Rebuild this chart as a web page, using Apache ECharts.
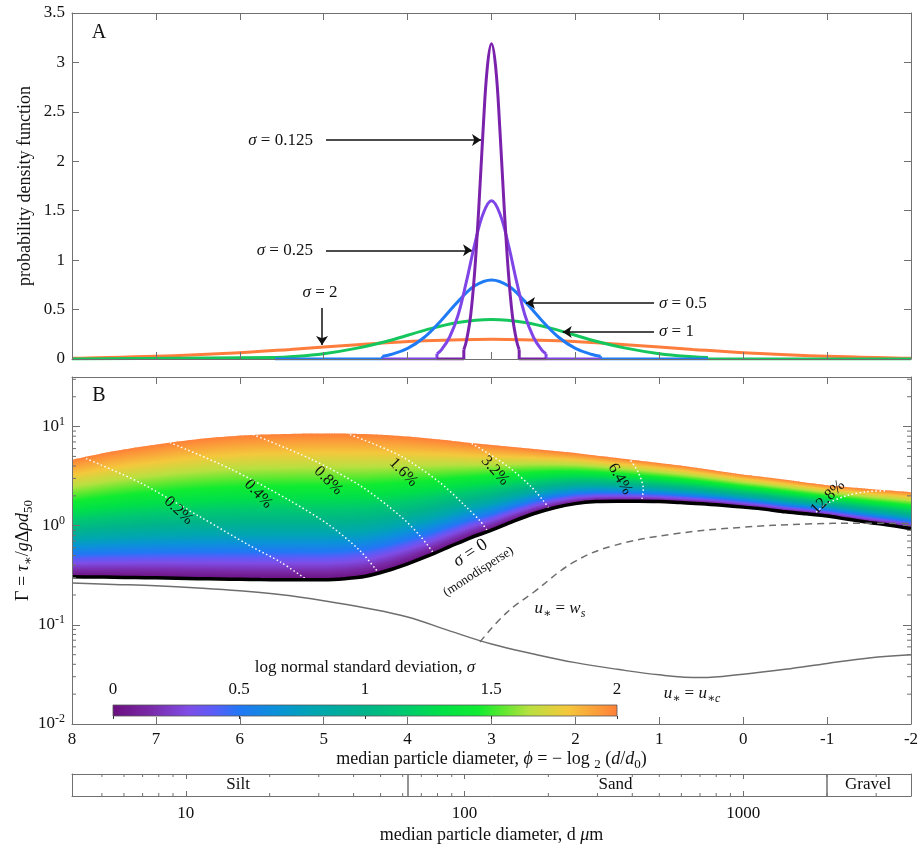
<!DOCTYPE html>
<html><head><meta charset="utf-8">
<script src="https://cdn.jsdelivr.net/npm/echarts@6/dist/echarts.min.js"></script>
<style>html,body{margin:0;padding:0;background:#fff}#chart{width:920px;height:844px}</style>
</head><body><div id="chart"></div>
<script>
// ================= DATA =================
// Panel A: probability density curves (bell part), [phi, pdf]
const pdfSigma2 = [[-2,0.0088],[-1.8,0.011],[-1.0,0.027],[-0.2,0.055],[0.6,0.097],[1.4,0.145],[2.2,0.184],[3.0,0.20],[3.8,0.184],[4.6,0.145],[5.4,0.097],[6.2,0.055],[7.0,0.027],[7.8,0.011],[8.0,0.0088]];
const pdfSigma1 = [[0.42,0.014],[0.6,0.022],[1.0,0.054],[1.4,0.11],[1.8,0.19],[2.2,0.29],[2.6,0.37],[3.0,0.40],[3.4,0.37],[3.8,0.29],[4.2,0.19],[4.6,0.11],[5.0,0.054],[5.4,0.022],[5.58,0.014]];
const pdfSigma05 = [[1.70,0.027],[1.8,0.045],[2.0,0.108],[2.2,0.22],[2.4,0.39],[2.6,0.58],[2.8,0.74],[3.0,0.80],[3.2,0.74],[3.4,0.58],[3.6,0.39],[3.8,0.22],[4.0,0.108],[4.2,0.045],[4.30,0.027]];
const pdfSigma025 = [[2.35,0.054],[2.4,0.09],[2.5,0.22],[2.6,0.44],[2.7,0.78],[2.8,1.16],[2.9,1.47],[3.0,1.60],[3.1,1.47],[3.2,1.16],[3.3,0.78],[3.4,0.44],[3.5,0.22],[3.6,0.09],[3.65,0.054]];
const pdfSigma0125 = [[2.67,0.094],[2.7,0.18],[2.75,0.43],[2.8,0.89],[2.85,1.55],[2.9,2.32],[2.95,2.95],[3.0,3.19],[3.05,2.95],[3.1,2.32],[3.15,1.55],[3.2,0.89],[3.25,0.43],[3.3,0.18],[3.33,0.094]];
// zero tails outside the truncated bells ('-' breaks the line)
const tailSigma1 = [[-2,0],[0.42,0],[0.42,0.014],[0.42,'-'],[5.58,0.014],[5.58,0],[8,0]];
const tailSigma05 = [[0.42,0],[1.70,0],[1.70,0.027],[1.70,'-'],[4.30,0.027],[4.30,0],[5.58,0]];
const tailSigma025 = [[1.70,0],[2.35,0],[2.35,0.054],[2.35,'-'],[3.65,0.054],[3.65,0],[4.30,0]];
const tailSigma0125 = [[2.35,0],[2.67,0],[2.67,0.094],[2.67,'-'],[3.33,0.094],[3.33,0],[3.65,0]];
const sigmaTagText = ['0.125','0.25','2','0.5','1'];
const sigmaTagAt = [[5.128,2.215],[5.128,1.10],[5.044,0.668],[1.004,0.566],[1.004,0.273]];
const arrowFrom = [[4.973,2.215],[4.973,1.10],[5.02,0.516],[1.063,0.566],[1.063,0.273]];
const arrowTo = [[3.125,2.215],[3.232,1.10],[5.02,0.142],[2.589,0.566],[2.151,0.273]];

// Panel B: Gamma boundaries of the coloured region
const phiGrid = [8,7.75,7.5,7.25,7,6.75,6.5,6.25,6,5.75,5.5,5.25,5,4.75,4.5,4.25,4,3.75,3.5,3.25,3,2.75,2.5,2.25,2,1.75,1.5,1.25,1,0.75,0.5,0.25,0,-0.25,-0.5,-0.75,-1,-1.25,-1.5,-1.75,-2];
const gammaSigma0 = [0.305,0.304,0.302,0.300,0.298,0.295,0.292,0.290,0.288,0.286,0.285,0.285,0.285,0.292,0.309,0.351,0.413,0.498,0.614,0.756,0.901,1.10,1.32,1.52,1.67,1.75,1.77,1.77,1.75,1.71,1.67,1.61,1.54,1.47,1.38,1.32,1.25,1.16,1.08,1.01,0.93];
const gammaSigma2 = [4.64,5.15,5.66,6.14,6.58,7.05,7.48,7.83,8.11,8.30,8.40,8.50,8.50,8.50,8.40,8.21,7.92,7.57,7.22,6.81,6.50,6.21,5.93,5.66,5.40,5.09,4.81,4.54,4.28,4.04,3.77,3.51,3.27,3.09,2.91,2.72,2.56,2.45,2.34,2.26,2.18];
// relative (log) height within the region at which each sigma level sits
const sigmaLevels = [0,0.5,1,1.5,2];
const sigmaLevelFrac = [0,0.19,0.40,0.67,1];
// colour map (sigma -> colour)
const cmapSigma = [0,0.15,0.3,0.4,0.5,0.65,0.8,1.0,1.15,1.3,1.45,1.55,1.65,1.8,2.0];
const cmapColor = ['#6b0f7e','#7a2aa8','#7f4de6','#5b5cf8','#2277f5','#0a92d8','#00a6b0','#00b48a','#00c870','#00e048','#10ec30','#60e830','#b8e040','#f4c83c','#ff8038'];
// white dotted concentration contours, [phi, Gamma]
const contour02 = [[7.833,4.75],[7.19,2.72],[6.474,1.23],[5.878,0.628],[5.521,0.433],[5.199,0.285]];
const contour04 = [[6.832,6.89],[6.117,3.76],[5.402,1.79],[4.925,1.0],[4.567,0.559],[4.353,0.34]];
const contour08 = [[5.843,8.30],[5.163,4.75],[4.567,2.54],[4.091,1.26],[3.852,0.792],[3.685,0.521]];
const contour16 = [[4.687,8.30],[4.091,5.09],[3.614,2.72],[3.316,1.59],[3.137,1.12],[3.042,0.87]];
const contour32 = [[3.236,6.78],[2.819,4.04],[2.541,2.54],[2.383,1.79],[2.303,1.45]];
const contour64 = [[1.341,4.54],[1.250,3.45],[1.191,2.35],[1.210,1.79]];
const contour128 = [[-0.836,1.29],[-0.995,1.66],[-1.234,2.01],[-1.472,2.20],[-1.71,2.26]];
const contourLabelText = ['0.2%','0.4%','0.8%','1.6%','3.2%','6.4%','12.8%'];
const contourLabelAt = [[6.731,1.42],[5.78,2.09],[4.945,2.85],[4.05,3.45],[2.958,3.59],[1.47,2.96],[-1.01,1.93]];
const contourLabelAngle = [-43,-47,-45,-45,-48,-60,45];
// u* = u*c (solid grey) and u* = ws (dashed grey)
const ucPhi = [8,7.5,7,6.5,6,5.5,5,4.5,4,3.5,3,2.5,2,1.5,1,0.5,0,-0.5,-1,-1.5,-2];
const ucGamma = [0.264,0.256,0.248,0.236,0.221,0.201,0.175,0.148,0.120,0.087,0.064,0.0509,0.0416,0.0356,0.0313,0.0294,0.0318,0.0356,0.0408,0.0464,0.050];
const wsPhi = [3.137,2.819,2.502,2.025,1.548,0.833,0.038,-0.757,-1.39,-2];
const wsGamma = [0.0673,0.133,0.212,0.426,0.628,0.824,0.961,1.04,1.06,1.05];
// minor ticks
const gammaMinorTicks = [0.02,0.03,0.04,0.05,0.06,0.07,0.08,0.09,0.2,0.3,0.4,0.5,0.6,0.7,0.8,0.9,2,3,4,5,6,7,8,9,20,30];
const dMinorTicks = [5,6,7,8,9,20,30,40,50,60,70,80,90,200,300,400,500,600,700,800,900,2000,3000];
// grain size classes (d in micrometres)
const classNames = ['Silt','Sand','Gravel'];
const classCenterD = [15.4,348,2809];
const classBoundD = [62.5,2000];

// ================= STYLE =================
const FONT = '"Liberation Serif","DejaVu Serif",serif';
const GRAY = '#707070';
const TXT = '#111111';
function rich(sz){
  const s = Math.round(sz*0.7);
  return {
    n:{fontFamily:FONT,fontSize:sz,color:TXT,lineHeight:sz+5,opacity:1},
    i:{fontFamily:FONT,fontSize:sz,fontStyle:'italic',color:TXT,lineHeight:sz+5,opacity:1},
    sub:{fontFamily:FONT,fontSize:s,color:TXT,lineHeight:s,verticalAlign:'bottom'},
    subi:{fontFamily:FONT,fontSize:s,fontStyle:'italic',color:TXT,lineHeight:s,verticalAlign:'bottom'},
    sup:{fontFamily:FONT,fontSize:s,color:TXT,lineHeight:s,verticalAlign:'top'},
    b:{fontFamily:FONT,fontSize:sz,color:TXT,lineHeight:sz+5}
  };
}
const labelStyle = {show:true,color:TXT,fontFamily:FONT,fontSize:17,margin:7};
function axisBase(extra){
  return Object.assign({
    z:10,
    nameMoveOverlap:false,
    axisLine:{show:true,onZero:false,lineStyle:{color:GRAY,width:1}},
    axisTick:{show:true,inside:true,length:7,lineStyle:{color:GRAY,width:1}},
    axisLabel:{show:false},
    splitLine:{show:false},
    splitArea:{show:false}
  }, extra);
}
function powLabel(v){
  const l = Math.log10(v); const e = Math.round(l);
  if (Math.abs(l-e) > 1e-6) return '';
  return '{b|10}{sup|' + e + '}';
}
function decadeLabel(v){
  const l = Math.log10(v); const e = Math.round(l);
  if (Math.abs(l-e) > 1e-6) return '';
  return String(Math.round(Math.pow(10,e)));
}
function interpFrac(s){
  for (let k=0;k<sigmaLevels.length-1;k++){
    if (s <= sigmaLevels[k+1]){
      const t=(s-sigmaLevels[k])/(sigmaLevels[k+1]-sigmaLevels[k]);
      return sigmaLevelFrac[k]+t*(sigmaLevelFrac[k+1]-sigmaLevelFrac[k]);
    }
  }
  return 1;
}
const fillStops = cmapSigma.map((s,i)=>({offset:Math.min(1,Math.max(0,interpFrac(s))),color:cmapColor[i]}));
const barStops = cmapSigma.map((s,i)=>({offset:s/2,color:cmapColor[i]}));
function textLabel(txt, sz, extra){
  return Object.assign({show:true,position:'inside',formatter:'{n|'+txt+'}',rich:rich(sz),opacity:1,textBorderWidth:0,color:TXT}, extra||{});
}

const grids = [
  {left:72,top:13,width:839,height:346,outerBoundsMode:'none'},
  {left:72,top:377,width:839,height:347,outerBoundsMode:'none'},
  {left:72,top:774,width:839,height:22,outerBoundsMode:'none'},
  {left:113,top:705,width:504,height:11,outerBoundsMode:'none'}
];
const phiCommon = {type:'value',min:-2,max:8,interval:1,inverse:true};
const xAxes = [
  axisBase(Object.assign({gridIndex:0,position:'bottom'},phiCommon)),
  axisBase(Object.assign({gridIndex:0,position:'top'},phiCommon)),
  axisBase(Object.assign({gridIndex:1,position:'bottom',axisLabel:labelStyle,
    name:'{n|median particle diameter, }{i|ϕ}{n| = − log }{sub|2}{n| (}{i|d}{n|/}{i|d}{sub|0}{n|)}',
    nameLocation:'middle',nameGap:24,nameTextStyle:{rich:rich(18)}},phiCommon)),
  axisBase(Object.assign({gridIndex:1,position:'top'},phiCommon)),
  axisBase({gridIndex:2,type:'log',logBase:10,min:3.90625,max:4000,position:'bottom',
    axisTick:{show:true,inside:true,length:5,lineStyle:{color:GRAY,width:1}},
    axisLabel:Object.assign({},labelStyle,{formatter:decadeLabel,margin:9}),
    name:'{n|median particle diameter, d }{i|μ}{n|m}',nameLocation:'middle',nameGap:28,nameTextStyle:{rich:rich(18)}}),
  axisBase({gridIndex:2,type:'log',logBase:10,min:3.90625,max:4000,position:'top',
    axisTick:{show:true,inside:true,length:5,lineStyle:{color:GRAY,width:1}}}),
  {gridIndex:3,type:'value',min:0,max:2,interval:0.5,position:'top',z:10,nameMoveOverlap:false,
    axisLine:{show:false},axisTick:{show:true,inside:true,length:3,lineStyle:{color:'#333',width:1}},
    axisLabel:labelStyle,splitLine:{show:false},
    name:'{n|log normal standard deviation, }{i|σ}',nameLocation:'middle',nameGap:26,nameTextStyle:{rich:rich(17)}}
];
const gammaCommon = {type:'log',logBase:10,min:0.01,max:31.6228};
const yAxes = [
  axisBase({gridIndex:0,type:'value',min:0,max:3.5,interval:0.5,position:'left',axisLabel:labelStyle,
    name:'probability density function',nameLocation:'middle',nameRotate:90,nameGap:38,
    nameTextStyle:{fontFamily:FONT,fontSize:18,color:TXT}}),
  axisBase({gridIndex:0,type:'value',min:0,max:3.5,interval:0.5,position:'right'}),
  axisBase(Object.assign({gridIndex:1,position:'left',
    axisTick:{show:true,inside:true,length:8,lineStyle:{color:GRAY,width:1}},
    axisLabel:Object.assign({},labelStyle,{formatter:powLabel,rich:rich(17)}),
    name:'{n|Γ = }{i|τ}{sub|∗}{n|/}{i|g}{n|Δ}{i|ρd}{sub|50}',nameLocation:'middle',nameRotate:90,nameGap:37,
    nameTextStyle:{rich:rich(18)}},gammaCommon)),
  axisBase(Object.assign({gridIndex:1,position:'right',
    axisTick:{show:true,inside:true,length:8,lineStyle:{color:GRAY,width:1}}},gammaCommon)),
  axisBase({gridIndex:2,type:'value',min:0,max:1,position:'left',axisTick:{show:false}}),
  axisBase({gridIndex:2,type:'value',min:0,max:1,position:'right',axisTick:{show:false}}),
  {gridIndex:3,type:'value',min:0,max:1,show:false}
];

const series = [];
// ---- Panel A curves (widest first, narrowest on top)
const pdfBells = [pdfSigma2,pdfSigma1,pdfSigma05,pdfSigma025,pdfSigma0125];
const pdfTails = [null,tailSigma1,tailSigma05,tailSigma025,tailSigma0125];
const pdfColors = ['#ff7d3c','#14c65c','#1f7bf5','#7f45e6','#7b22ad'];
pdfBells.forEach((d,k)=>{
  if (pdfTails[k]) series.push({type:'line',xAxisIndex:0,yAxisIndex:0,data:pdfTails[k],showSymbol:false,symbol:'none',
    connectNulls:false,lineStyle:{color:pdfColors[k],width:3},silent:true,z:2+k});
  series.push({type:'line',xAxisIndex:0,yAxisIndex:0,data:d,showSymbol:false,symbol:'none',
    smooth:0.4,lineStyle:{color:pdfColors[k],width:3},silent:true,z:2+k});
});
// ---- Panel A annotations
series.push({type:'scatter',xAxisIndex:0,yAxisIndex:0,symbolSize:0,silent:true,z:12,itemStyle:{opacity:1},
  data:sigmaTagAt.map((p,i)=>({value:p,label:{show:true,position:(i<2?'left':(i===2?'inside':'right')),distance:0,
    formatter:'{i|σ}{n| = '+sigmaTagText[i]+'}',rich:rich(17),opacity:1}})),
  markLine:{silent:true,animation:false,symbol:['none','arrow'],symbolSize:9,label:{show:false},
    lineStyle:{color:'#111',width:1.5,type:'solid',opacity:1},emphasis:{disabled:true},
    data:arrowFrom.map((p,i)=>[{coord:p},{coord:arrowTo[i]}])}
});
series.push({type:'scatter',xAxisIndex:0,yAxisIndex:0,symbolSize:0,silent:true,z:12,itemStyle:{opacity:1},
  data:[{value:[7.678,3.30],label:textLabel('A',20)}]});

// ---- Panel B coloured region (each data segment drawn as thin overlapping columns)
const fillSegments = phiGrid.slice(0,-1).map((p,i)=>[p,phiGrid[i+1],gammaSigma0[i],gammaSigma0[i+1],gammaSigma2[i],gammaSigma2[i+1]]);
const SUB = 8;
series.push({type:'custom',xAxisIndex:2,yAxisIndex:2,silent:true,z:1,data:fillSegments,encode:{x:[0,1],y:[2,3,4,5]},
  renderItem(params,api){
    const p0=api.coord([api.value(0),api.value(2)]);
    const p1=api.coord([api.value(1),api.value(3)]);
    const q1=api.coord([api.value(1),api.value(5)]);
    const q0=api.coord([api.value(0),api.value(4)]);
    const lerp=(a,b,t)=>[a[0]+(b[0]-a[0])*t,a[1]+(b[1]-a[1])*t];
    const last = params.dataIndex === fillSegments.length-1;
    const children=[];
    for (let j=0;j<SUB;j++){
      const t0=j/SUB, t1=(j+1)/SUB, tm=(j+0.5)/SUB;
      const b0=lerp(p0,p1,t0), b1=lerp(p0,p1,t1), u1=lerp(q0,q1,t1), u0=lerp(q0,q1,t0);
      if (!(last && j===SUB-1)) { b1[0]+=0.9; u1[0]+=0.9; }
      const bm=lerp(p0,p1,tm), um=lerp(q0,q1,tm);
      const g=new echarts.graphic.LinearGradient(bm[0],bm[1],um[0],um[1],fillStops,true);
      children.push({type:'polygon',shape:{points:[b0,b1,u1,u0]},style:{fill:g}});
    }
    return {type:'group',children};
  }});
// contours
[contour02,contour04,contour08,contour16,contour32,contour64,contour128].forEach(d=>series.push({
  type:'line',xAxisIndex:2,yAxisIndex:2,data:d,showSymbol:false,symbol:'none',smooth:0.3,silent:true,z:3,
  lineStyle:{color:'#ffffff',width:1.5,type:[1.5,2.5]}}));
// sigma = 0 line
series.push({type:'line',xAxisIndex:2,yAxisIndex:2,data:phiGrid.map((p,i)=>[p,gammaSigma0[i]]),showSymbol:false,symbol:'none',
  smooth:0.3,silent:true,z:4,lineStyle:{color:'#000',width:3.5}});
// u*=u*c
series.push({type:'line',xAxisIndex:2,yAxisIndex:2,data:ucPhi.map((p,i)=>[p,ucGamma[i]]),showSymbol:false,symbol:'none',
  smooth:0.4,silent:true,z:4,lineStyle:{color:'#6e6e6e',width:1.5}});
// u*=ws
series.push({type:'line',xAxisIndex:2,yAxisIndex:2,data:wsPhi.map((p,i)=>[p,wsGamma[i]]),showSymbol:false,symbol:'none',
  smooth:0.4,silent:true,z:5,lineStyle:{color:'#6e6e6e',width:1.5,type:[7,5]}});
// labels in B
const bLabels = contourLabelAt.map((p,i)=>({value:p,label:textLabel(contourLabelText[i],16,{rotate:contourLabelAngle[i]})}));
bLabels.push({value:[3.25,0.53],label:{show:true,position:'inside',rotate:33,formatter:'{i|σ}{n| = 0}',rich:rich(18),opacity:1}});
bLabels.push({value:[3.157,0.344],label:textLabel('(monodisperse)',13,{rotate:33})});
bLabels.push({value:[2.184,0.145],label:{show:true,position:'inside',formatter:'{i|u}{sub|∗}{n| = }{i|w}{subi|s}',rich:rich(17),opacity:1}});
bLabels.push({value:[0.61,0.0201],label:{show:true,position:'inside',formatter:'{i|u}{sub|∗}{n| = }{i|u}{subi|∗c}',rich:rich(17),opacity:1}});
bLabels.push({value:[7.678,20.6],label:textLabel('B',20)});
series.push({type:'scatter',xAxisIndex:2,yAxisIndex:2,symbolSize:0,silent:true,z:12,itemStyle:{opacity:1},data:bLabels});
// minor ticks on B's log axes
series.push({type:'custom',xAxisIndex:2,yAxisIndex:2,silent:true,z:9,data:gammaMinorTicks.map(v=>[8,v]),encode:{x:0,y:1},
  renderItem(params,api){
    const y=api.coord([8,api.value(1)])[1]; const cs=params.coordSys;
    return {type:'group',children:[
      {type:'line',shape:{x1:cs.x,y1:y,x2:cs.x+4,y2:y},style:{stroke:GRAY,lineWidth:1}},
      {type:'line',shape:{x1:cs.x+cs.width,y1:y,x2:cs.x+cs.width-4,y2:y},style:{stroke:GRAY,lineWidth:1}}]};
  }});

// ---- Panel C (grain size classes)
series.push({type:'scatter',xAxisIndex:4,yAxisIndex:4,symbolSize:0,silent:true,z:12,itemStyle:{opacity:1},
  data:classNames.map((n,i)=>({value:[classCenterD[i],0.5],label:textLabel(n,17)})),
  markLine:{silent:true,animation:false,symbol:['none','none'],label:{show:false},emphasis:{disabled:true},
    lineStyle:{color:GRAY,width:1.5,type:'solid',opacity:1},data:classBoundD.map(v=>({xAxis:v}))}});
series.push({type:'custom',xAxisIndex:4,yAxisIndex:4,silent:true,z:9,data:dMinorTicks.map(v=>[v,0]),encode:{x:0,y:1},
  renderItem(params,api){
    const x=api.coord([api.value(0),0])[0]; const cs=params.coordSys;
    return {type:'group',children:[
      {type:'line',shape:{x1:x,y1:cs.y,x2:x,y2:cs.y+3},style:{stroke:GRAY,lineWidth:1}},
      {type:'line',shape:{x1:x,y1:cs.y+cs.height,x2:x,y2:cs.y+cs.height-3},style:{stroke:GRAY,lineWidth:1}}]};
  }});

// ---- colour bar
series.push({type:'custom',xAxisIndex:6,yAxisIndex:6,silent:true,z:2,data:[[0,2]],encode:{x:[0,1]},
  renderItem(params,api){
    const a=api.coord([0,0]); const b=api.coord([2,1]);
    return {type:'rect',shape:{x:a[0],y:b[1],width:b[0]-a[0],height:a[1]-b[1]},
      style:{fill:new echarts.graphic.LinearGradient(0,0,1,0,barStops),stroke:'#555',lineWidth:0.8}};
  }});

const chart = echarts.init(document.getElementById('chart'));
chart.setOption({
  animation:false,
  backgroundColor:'#ffffff',
  textStyle:{fontFamily:FONT},
  grid:grids,
  xAxis:xAxes,
  yAxis:yAxes,
  series:series
});
</script>
</body></html>
